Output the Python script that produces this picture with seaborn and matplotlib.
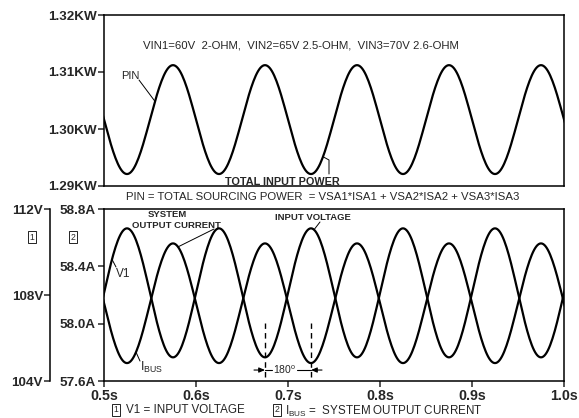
import numpy as np
import pandas as pd
import matplotlib
matplotlib.use("Agg")
import matplotlib.pyplot as plt
from matplotlib.lines import Line2D
import seaborn as sns

# ---------------- data ----------------
# times (s) of successive extrema of the waveforms (first/last lie just outside the view)
ext_time_s = [0.475, 0.525, 0.575, 0.625, 0.675, 0.725, 0.775, 0.825, 0.875, 0.925, 0.975, 1.025]
# total input power (KW) at those extrema
pin_ext_kw = [1.3112, 1.2921, 1.3112, 1.2921, 1.3112, 1.2921, 1.3112, 1.2921, 1.3112, 1.2921, 1.3112, 1.2921]
# input voltage V1 (V) at those extrema
v1_ext_v = [105.1, 111.1, 105.1, 111.1, 105.1, 111.1, 105.1, 111.1, 105.1, 111.1, 105.1, 111.1]
# system output current IBUS (A) at those extrema
ibus_ext_a = [58.56, 57.725, 58.56, 57.725, 58.56, 57.725, 58.56, 57.725, 58.56, 57.725, 58.56, 57.725]

time_ticks = [0.5, 0.6, 0.7, 0.8, 0.9, 1.0]
time_tick_labels = ["0.5s", "0.6s", "0.7s", "0.8s", "0.9s", "1.0s"]
pin_ticks = [1.29, 1.30, 1.31, 1.32]
pin_tick_labels = ["1.29KW", "1.30KW", "1.31KW", "1.32KW"]
amp_ticks = [57.6, 58.0, 58.4, 58.8]
amp_tick_labels = ["57.6A", "58.0A", "58.4A", "58.8A"]
volt_ticks = [104, 108, 112]
volt_tick_labels = ["104V", "108V", "112V"]


def wave(ext_t, ext_v, n=40):
    """smooth (half-cosine) arcs between successive extrema"""
    ts, vs = [], []
    for i in range(len(ext_t) - 1):
        s = np.linspace(0, 1, n, endpoint=False)
        ts.append(ext_t[i] + s * (ext_t[i + 1] - ext_t[i]))
        vs.append(ext_v[i] + (ext_v[i + 1] - ext_v[i]) * (1 - np.cos(np.pi * s)) / 2)
    ts.append([ext_t[-1]])
    vs.append([ext_v[-1]])
    return np.concatenate(ts), np.concatenate(vs)


t_pin, y_pin = wave(ext_time_s, pin_ext_kw)
t_v1, y_v1 = wave(ext_time_s, v1_ext_v)
t_ib, y_ib = wave(ext_time_s, ibus_ext_a)
df_pin = pd.DataFrame({"t": t_pin, "pin": y_pin})
df_v1 = pd.DataFrame({"t": t_v1, "v1": y_v1})
df_ib = pd.DataFrame({"t": t_ib, "ibus": y_ib})

# ---------------- style ----------------
sns.set_style("white")
plt.rcParams["font.family"] = ["Liberation Sans", "DejaVu Sans"]
plt.rcParams["mathtext.fontset"] = "custom"
plt.rcParams["mathtext.rm"] = "Liberation Sans"
plt.rcParams["axes.edgecolor"] = "black"
plt.rcParams["axes.linewidth"] = 1.1

W, H = 579, 418
fig = plt.figure(figsize=(W / 100, H / 100), dpi=100)
fig.patch.set_facecolor("white")


def fx(x):
    return x / W


def fy(y):
    return 1 - y / H


ax_top = fig.add_axes([fx(104), fy(186), 460 / W, 171 / H])
ax_bot = fig.add_axes([fx(104), fy(381), 460 / W, 172 / H])

LW = 1.6
sns.lineplot(data=df_pin, x="t", y="pin", ax=ax_top, color="black", lw=LW, errorbar=None)
sns.lineplot(data=df_ib, x="t", y="ibus", ax=ax_bot, color="black", lw=LW, errorbar=None)
ax_v = ax_bot.twinx()
sns.lineplot(data=df_v1, x="t", y="v1", ax=ax_v, color="black", lw=LW, errorbar=None)

# ---------------- top axes ----------------
ax_top.set_xlim(0.5, 1.0)
ax_top.set_ylim(1.29, 1.32)
ax_top.set_xticks([])
ax_top.set_yticks(pin_ticks)
ax_top.set_yticklabels(pin_tick_labels, fontsize=9.7, fontweight="bold")
ax_top.tick_params(axis="y", direction="out", length=4, width=1.1, pad=1, left=True)
ax_top.set_xlabel("")
ax_top.set_ylabel("")
for s in ax_top.spines.values():
    s.set_visible(True)

# ---------------- bottom axes ----------------
ax_bot.set_xlim(0.5, 1.0)
ax_bot.set_ylim(57.6, 58.8)
ax_bot.set_xticks(time_ticks)
ax_bot.set_xticklabels(time_tick_labels, fontsize=10.3, fontweight="bold")
ax_bot.set_yticks(amp_ticks)
ax_bot.set_yticklabels(amp_tick_labels, fontsize=9.7, fontweight="bold")
ax_bot.tick_params(axis="y", direction="out", length=4, width=1.1, pad=2, left=True)
ax_bot.tick_params(axis="x", direction="out", length=4, width=1.1, pad=1.5, bottom=True)
ax_bot.set_xlabel("")
ax_bot.set_ylabel("")

ax_v.set_xlim(0.5, 1.0)
ax_v.set_ylim(104, 112)
ax_v.yaxis.tick_left()
ax_v.yaxis.set_label_position("left")
ax_v.spines["left"].set_position(("axes", (50 - 104) / 460))
ax_v.spines["left"].set_visible(True)
ax_v.spines["left"].set_linewidth(1.1)
for k in ("right", "top", "bottom"):
    ax_v.spines[k].set_visible(False)
ax_v.set_yticks(volt_ticks)
ax_v.set_yticklabels(volt_tick_labels, fontsize=9.7, fontweight="bold")
ax_v.tick_params(axis="y", direction="out", length=4, width=1.1, pad=1)
ax_v.set_ylabel("")
ax_v.set_xlabel("")


# ---------------- annotations ----------------
def tx(px):
    return 0.5 + (px - 104) / 920.0


def ty_top(py):
    return 1.32 - (py - 15) / 5700.0


def ty_amp(py):
    return 58.8 - (py - 209) / 143.3


def ty_volt(py):
    return 112 - (py - 209) / 21.5


ax_top.text(tx(143), ty_top(45), "VIN1=60V  2-OHM,  VIN2=65V 2.5-OHM,  VIN3=70V 2.6-OHM",
            fontsize=8.2, ha="left", va="center")
ax_top.text(tx(121), ty_top(76), "PIN", fontsize=8, ha="left", va="center")
t_end = tx(155)
ax_top.add_line(Line2D([tx(139), t_end], [ty_top(80), np.interp(t_end, t_pin, y_pin)],
                       color="black", lw=0.7))
ax_top.text(tx(225), ty_top(182), "TOTAL INPUT POWER", fontsize=7.8, fontweight="bold",
            ha="left", va="center")
t_end = tx(323)
ax_top.add_line(Line2D([t_end, tx(329), tx(329)],
                       [np.interp(t_end, t_pin, y_pin), ty_top(160), ty_top(174)],
                       color="black", lw=0.7))

fig.text(fx(323), fy(197), "PIN = TOTAL SOURCING POWER  = VSA1*ISA1 + VSA2*ISA2 + VSA3*ISA3",
         fontsize=8.2, ha="center", va="center")

# bottom panel labels
ax_bot.text(tx(167), ty_amp(214), "SYSTEM", fontsize=6.8, fontweight="bold", ha="center", va="center")
ax_bot.text(tx(176), ty_amp(225), "OUTPUT CURRENT", fontsize=6.8, fontweight="bold",
            ha="center", va="center")
t_end = tx(178)
ax_bot.add_line(Line2D([tx(214), t_end], [ty_amp(229), np.interp(t_end, t_ib, y_ib)],
                       color="black", lw=0.7))

ax_v.text(tx(275), ty_volt(218), "INPUT VOLTAGE", fontsize=6.8, fontweight="bold",
          ha="left", va="center")
t_end = tx(314)
ax_v.add_line(Line2D([tx(320), t_end], [ty_volt(222), np.interp(t_end, t_v1, y_v1)],
                     color="black", lw=0.7))

ax_v.text(tx(116), ty_volt(274), "V1", fontsize=8.5, ha="left", va="center")
t_end = tx(112)
ax_v.add_line(Line2D([tx(116), t_end], [ty_volt(267), np.interp(t_end, t_v1, y_v1)],
                     color="black", lw=0.7))

ax_bot.text(tx(140), ty_amp(367), r"I$_{\mathregular{BUS}}$", fontsize=9, ha="left", va="center")
t_end = tx(136)
ax_bot.add_line(Line2D([tx(140), t_end], [ty_amp(361), np.interp(t_end, t_ib, y_ib)],
                       color="black", lw=0.7))

# 180 degree marker
ax_bot.vlines([0.675, 0.725], ty_amp(377), ty_amp(323), colors="black", lw=1.0,
              linestyles=(0, (4, 3)))
ym = ty_amp(370)
ax_bot.annotate("", xy=(0.675, ym), xytext=(tx(254), ym),
                arrowprops=dict(arrowstyle="-|>,head_length=0.35,head_width=0.15", color="black", lw=0.8,
                                shrinkA=0, shrinkB=0))
ax_bot.annotate("", xy=(0.725, ym), xytext=(tx(322), ym),
                arrowprops=dict(arrowstyle="-|>,head_length=0.35,head_width=0.15", color="black", lw=0.8,
                                shrinkA=0, shrinkB=0))
ax_bot.add_line(Line2D([0.675, tx(272)], [ym, ym], color="black", lw=0.8))
ax_bot.add_line(Line2D([tx(297), 0.725], [ym, ym], color="black", lw=0.8))
ax_bot.text(tx(284.5), ym, r"180$^{\mathregular{o}}$", fontsize=7.5, ha="center", va="center")

# numbered boxes
box = dict(boxstyle="square,pad=0.2", fc="white", ec="black", lw=0.6)
fig.text(fx(32), fy(237), "1", fontsize=6.2, ha="center", va="center", bbox=box)
fig.text(fx(73), fy(237), "2", fontsize=6.2, ha="center", va="center", bbox=box)

# bottom legend
fig.text(fx(116), fy(410), "1", fontsize=6.2, ha="center", va="center", bbox=box)
fig.text(fx(126), fy(410), "V1 = INPUT VOLTAGE", fontsize=8.4, ha="left", va="center")
fig.text(fx(277), fy(410), "2", fontsize=6.2, ha="center", va="center", bbox=box)
fig.text(fx(285), fy(411), r"I$_{\mathregular{BUS}}$ =  SYSTEM OUTPUT CURRENT", fontsize=8.4,
         ha="left", va="center")

fig.savefig("out.png", dpi=100, facecolor="white")
